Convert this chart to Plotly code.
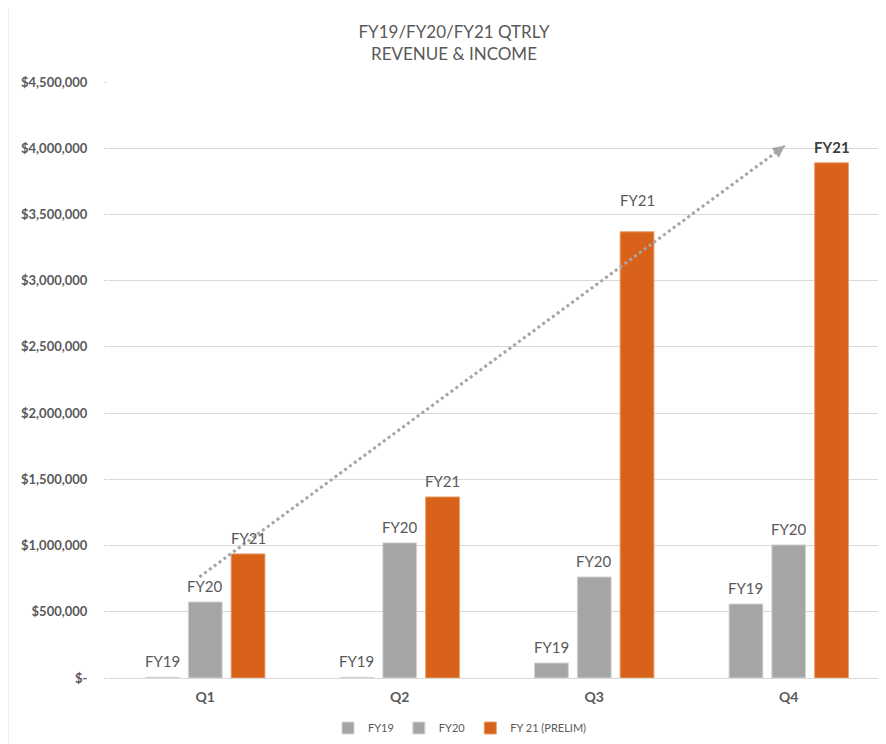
import plotly.graph_objects as go

quarters = ["Q1", "Q2", "Q3", "Q4"]
fy19 = [5000, 5000, 113000, 559000]
fy20 = [574000, 1020000, 763000, 1005000]
fy21 = [937000, 1367000, 3369000, 3890000]
series_names = ["FY19", "FY20", "FY 21 (PRELIM)"]
fy19_labels = ["FY19", "FY19", "FY19", "FY19"]
fy20_labels = ["FY20", "FY20", "FY20", "FY20"]
fy21_labels = ["FY21", "FY21", "FY21", "<b>FY21</b>"]
# extra manual lift (px) of a few labels, as placed in the original
fy19_lift = [0, 0, 0, 0]
fy20_lift = [0, 0, 0, 0]
fy21_lift = [0, 0, 16, 0]
tick_vals = [0, 500000, 1000000, 1500000, 2000000, 2500000, 3000000, 3500000, 4000000, 4500000]
tick_text = ["$-", "$500,000", "$1,000,000", "$1,500,000", "$2,000,000", "$2,500,000",
             "$3,000,000", "$3,500,000", "$4,000,000", "$4,500,000"]
# hand-drawn trend arrow (category index, value)
trend_start = [-0.03, 763000]
trend_end = [2.98, 4018000]

GREY = "#A5A5A5"
ORANGE = "#D8621A"
TXT = "#595959"
FONT = "Lato"
W, H = 878, 736
ML, MR, MT, MB = 100, 0, 74, 66
BARGAP, GROUPGAP = 0.34, 0.21

fig = go.Figure()
series = [
    (fy19, fy19_labels, fy19_lift, series_names[0], GREY, "#D4D4D4"),
    (fy20, fy20_labels, fy20_lift, series_names[1], GREY, "#D4D4D4"),
    (fy21, fy21_labels, fy21_lift, series_names[2], ORANGE, "#E8A070"),
]
for vals, labels, lift, name, color, lc in series:
    fig.add_trace(go.Bar(x=quarters, y=vals, name=name,
                         marker=dict(color=color, line=dict(color=lc, width=1))))

# value-position labels above each bar (offset by the bar's slot within its group)
slot = (W - ML - MR) / len(quarters) * (1 - BARGAP) / len(series)
for i, (vals, labels, lift, name, color, lc) in enumerate(series):
    for q, v, t, l in zip(quarters, vals, labels, lift):
        fig.add_annotation(x=q, y=v, xref="x", yref="y", text=t, showarrow=False,
                           xshift=(i - 1) * slot, yshift=5 + l, yanchor="bottom",
                           font=dict(family=FONT, size=15, color="#404040" if "<b>" in t else TXT))

# dotted trend line
fig.add_shape(type="line", xref="x", yref="y", x0=trend_start[0], y0=trend_start[1],
              x1=trend_end[0], y1=trend_end[1], line=dict(color="#A6A6A6", width=3, dash="dot"))
# arrow head
dx = trend_end[0] - trend_start[0]
dy = trend_end[1] - trend_start[1]
fig.add_annotation(x=trend_end[0], y=trend_end[1], xref="x", yref="y",
                   ax=trend_end[0] - dx * 0.02, ay=trend_end[1] - dy * 0.02, axref="x", ayref="y",
                   showarrow=True, arrowhead=2, arrowsize=1.2, arrowwidth=2, arrowcolor="#A6A6A6", text="")

# chart border lines (left and right)
pw, ph = W - ML - MR, H - MT - MB
for xp in [-ML / pw, (876 - ML) / pw]:
    fig.add_shape(type="line", xref="paper", yref="paper", x0=xp, x1=xp, y0=-MB / ph, y1=1 + MT / ph,
                  line=dict(color="#D9D9D9", width=1))

fig.update_layout(
    width=W, height=H,
    margin=dict(l=ML, r=MR, t=MT, b=MB),
    paper_bgcolor="white", plot_bgcolor="white",
    barmode="group", bargap=BARGAP, bargroupgap=GROUPGAP,
    title=dict(text="FY19/FY20/FY21 QTRLY<br>REVENUE & INCOME", x=446 / W, xref="container",
               xanchor="center", y=1 - 30 / H, yref="container", yanchor="middle",
               font=dict(family=FONT, size=17, color=TXT)),
    font=dict(family=FONT, color=TXT),
    legend=dict(orientation="h", x=(452 - ML) / pw, xanchor="center", y=-50 / ph, yanchor="middle",
                font=dict(family=FONT, size=11, color=TXT), traceorder="normal", itemwidth=30),
    showlegend=True,
)
fig.update_xaxes(showgrid=False, showline=True, linecolor="#D9D9D9", linewidth=1,
                 tickfont=dict(family=FONT, size=14, color=TXT, weight="bold"), ticks="",
                 ticklabelstandoff=6)
fig.update_yaxes(range=[0, 4500000], tickvals=tick_vals, ticktext=tick_text, showgrid=True,
                 gridcolor="#D9D9D9", gridwidth=1, zeroline=False, showline=False,
                 ticks="outside", ticklen=3, tickcolor="#D9D9D9", ticklabelstandoff=14,
                 tickfont=dict(family=FONT, size=13, color=TXT, weight="bold"))

fig.write_html("out.html")
